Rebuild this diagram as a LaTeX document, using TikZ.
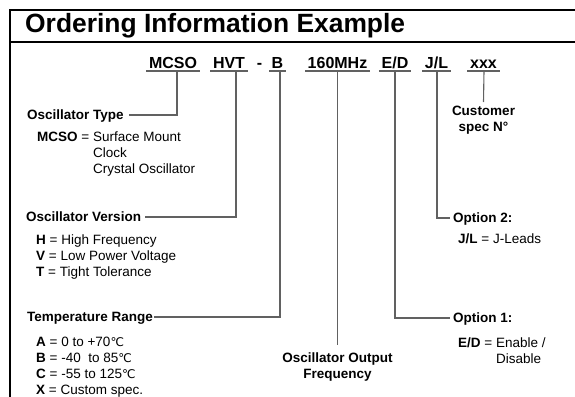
\documentclass[tikz,border=0pt]{standalone}
\usepackage{fontspec}
\setmainfont{Liberation Sans}
\newfontfamily\djvfont{DejaVu Sans}
\newcommand{\degC}{{\djvfont\fontsize{12}{16}\selectfont ℃}}
\begin{document}
\begin{tikzpicture}[x=1pt,y=-1pt,
  conn/.style={draw=black!62, line width=1.1pt},
  frameline/.style={draw=black, line width=2pt},
  code/.style={font=\fontsize{16}{18}\selectfont\bfseries, inner xsep=2.5pt, inner ysep=0pt, anchor=base},
  head/.style={font=\fontsize{13.5}{16}\selectfont\bfseries, inner sep=0pt, text height=9.7pt, text depth=0pt},
  desc/.style={font=\fontsize{13.5}{16}\selectfont, inner sep=0pt, anchor=base west},
  note/.style={font=\fontsize{13.5}{16}\selectfont\bfseries, inner sep=0pt, align=center, anchor=north},
]
\useasboundingbox (0,0) rectangle (575,396);
% frame
\draw[frameline] (10,398) -- (10,10) -- (577,10);
\draw[frameline] (10,42) -- (577,42);
\node[font=\fontsize{26.4}{30}\selectfont\bfseries, anchor=base west, inner sep=0pt] (title) at (25,33) {Ordering Information Example};
% code row
\node[code] (mcso) at (173,68) {MCSO};
\node[code] (hvt) at (229,68) {HVT};
\node[code] (dash) at (259.5,68) {-};
\node[code] (b) at (277.5,68) {B};
\node[code] (mhz) at (337.5,68) {160MHz};
\node[code] (ed) at (395,68) {E/D};
\node[code] (jl) at (436.5,68) {J/L};
\node[code] (xxx) at (483.5,68) {xxx};
\foreach \n in {mcso,hvt,b,mhz,ed,jl,xxx}
  \draw[conn] ([yshift=-3pt]\n.base west) -- ([yshift=-3pt]\n.base east);
% headings
\node[head, anchor=west] (otype) at (27,115) {Oscillator Type};
\node[head, anchor=west] (over) at (26,217) {Oscillator Version};
\node[head, anchor=west] (temp) at (27,317) {Temperature Range};
\node[head, anchor=west] (opt2) at (453,218) {Option 2:};
\node[head, anchor=west] (opt1) at (453,318) {Option 1:};
\node[note] (freq) at (337.5,353) {Oscillator Output\\Frequency};
\node[note] (cust) at (483.5,106) {Customer\\spec N°};
% descriptions
\node[desc] (tlist) at (37,141) {\begin{tabular}[t]{@{}l@{ }l@{}}\textbf{MCSO} = & Surface Mount\\ & Clock\\ & Crystal Oscillator\end{tabular}};
\node[desc] (vlist) at (36,244) {\begin{tabular}[t]{@{}l@{}}\textbf{H} = High Frequency\\ \textbf{V} = Low Power Voltage\\ \textbf{T} = Tight Tolerance\end{tabular}};
\node[desc] (rlist) at (36,346) {\begin{tabular}[t]{@{}l@{}}\textbf{A} = 0 to +70\degC\\ \textbf{B} = -40\ \ to 85\degC\\ \textbf{C} = -55 to 125\degC\\ \textbf{X} = Custom spec.\end{tabular}};
\node[desc] (jlist) at (458,243) {\textbf{J/L} = J-Leads};
\node[desc] (elist) at (458,347) {\begin{tabular}[t]{@{}l@{ }l@{}}\textbf{E/D} = & Enable /\\ & Disable\end{tabular}};
% connectors
\draw[conn] ([xshift=4pt,yshift=-3pt]mcso.base) |- ([xshift=5pt]otype.east);
\draw[conn] ([xshift=7pt,yshift=-3pt]hvt.base) |- ([xshift=4pt]over.east);
\draw[conn] ([xshift=2.5pt,yshift=-3pt]b.base) |- ([xshift=1pt]temp.east);
\draw[conn] ([yshift=-3pt]mhz.base) -- ([yshift=8pt]freq.north);
\draw[conn] ([yshift=-3pt]ed.base) |- ([xshift=-3pt]opt1.west);
\draw[conn] ([xshift=0.5pt,yshift=-3pt]jl.base) |- ([xshift=-3pt]opt2.west);
\draw[conn] ([xshift=0.5pt,yshift=-3pt]xxx.base) -- ([yshift=4pt]cust.north);
\end{tikzpicture}
\end{document}
